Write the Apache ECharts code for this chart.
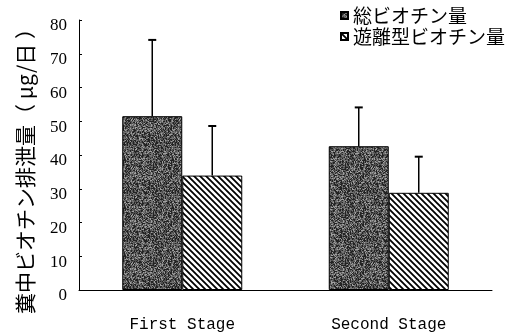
<!DOCTYPE html>
<html>
<head>
<meta charset="utf-8">
<script src="https://cdn.jsdelivr.net/npm/echarts@6/dist/echarts.min.js"></script>
<style>
  html, body { margin: 0; padding: 0; background: #fff; }
  #chart { width: 519px; height: 333px; }
</style>
</head>
<body>
<div id="chart"></div>
<script>
// Faecal biotin excretion by stage (mean + SD, µg/day)
const categories = ['First Stage', 'Second Stage'];
const seriesNames = ['総ビオチン量', '遊離型ビオチン量'];
const totalMean = [51.5, 42.6];
const totalSd = [22.6, 11.5];
const freeMean = [33.9, 28.8];
const freeSd = [14.7, 10.7];
const yTicks = [0, 10, 20, 30, 40, 50, 60, 70, 80];
const yTitle = '糞中ビオチン排泄量（ μg/日 ）';

// Speckled dark-grey fill, built from a deterministic hash so it is stable.
function makeSpeckle() {
  const c = document.createElement('canvas');
  c.width = 48; c.height = 48;
  const ctx = c.getContext('2d');
  const img = ctx.createImageData(48, 48);
  for (let i = 0; i < 48 * 48; i++) {
    let h = (i * 2654435761) >>> 0;
    h ^= h >>> 15; h = Math.imul(h, 2246822519) >>> 0; h ^= h >>> 13;
    const r = (h & 255) / 255;
    const v = r < 0.3 ? 35 : r < 0.6 ? 80 : r < 0.88 ? 115 : 160;
    img.data[i * 4] = v; img.data[i * 4 + 1] = v; img.data[i * 4 + 2] = v; img.data[i * 4 + 3] = 255;
  }
  ctx.putImageData(img, 0, 0);
  return c;
}

// White fill with black diagonal hatching running top-left to bottom-right.
function makeHatch() {
  const s = 6;
  const c = document.createElement('canvas');
  c.width = s; c.height = s;
  const ctx = c.getContext('2d');
  ctx.fillStyle = '#fff';
  ctx.fillRect(0, 0, s, s);
  ctx.strokeStyle = '#000';
  ctx.lineWidth = 1.8;
  ctx.beginPath();
  ctx.moveTo(-1, -1); ctx.lineTo(s + 1, s + 1);
  ctx.moveTo(-1, s - 1); ctx.lineTo(1, s + 1);
  ctx.moveTo(s - 1, -1); ctx.lineTo(s + 1, 1);
  ctx.stroke();
  return c;
}

const speckle = { image: makeSpeckle(), repeat: 'repeat' };
const hatch = { image: makeHatch(), repeat: 'repeat' };

const BAR_W = 60;

function errorSeries(means, sds, offset) {
  return {
    type: 'custom',
    silent: true,
    z: 1,
    data: means.map((m, i) => [i, m, m + sds[i]]),
    renderItem: function (params, api) {
      const base = api.coord([api.value(0), api.value(1)]);
      const top = api.coord([api.value(0), api.value(2)]);
      const x = base[0] + offset;
      const style = { stroke: '#000', lineWidth: 1.5 };
      return {
        type: 'group',
        children: [
          { type: 'line', shape: { x1: x, y1: base[1], x2: x, y2: top[1] }, style: style },
          { type: 'line', shape: { x1: x - 4, y1: top[1], x2: x + 4, y2: top[1] }, style: { stroke: '#000', lineWidth: 2 } }
        ]
      };
    }
  };
}

const chart = echarts.init(document.getElementById('chart'), null, { renderer: 'canvas' });
chart.setOption({
  animation: false,
  backgroundColor: '#fff',
  grid: { left: 79, right: 27, top: 20, bottom: 38 },
  legend: {
    orient: 'vertical',
    left: 340,
    top: 6,
    padding: 0,
    itemWidth: 7,
    itemHeight: 7,
    itemGap: 2,
    icon: 'rect',
    textStyle: { fontFamily: 'Noto Sans CJK JP', fontSize: 19, color: '#000', lineHeight: 18 },
    data: seriesNames
  },
  xAxis: {
    type: 'category',
    data: categories,
    axisLine: { lineStyle: { color: '#000', width: 1 } },
    axisTick: { inside: true, length: 3, lineStyle: { color: '#000' } },
    axisLabel: { fontFamily: 'Liberation Mono', fontSize: 16, color: '#000', margin: 27 }
  },
  yAxis: {
    type: 'value',
    min: 0, max: 80, interval: 10,
    splitLine: { show: false },
    axisLine: { show: true, lineStyle: { color: '#000', width: 1 } },
    axisTick: { show: true, inside: true, length: 3, lineStyle: { color: '#000' } },
    axisLabel: {
      fontFamily: 'Liberation Serif', fontSize: 17, color: '#000', margin: 12,
      verticalAlign: 'top', lineHeight: 12,
      formatter: v => (yTicks.indexOf(v) >= 0 ? String(v) : '')
    }
  },
  graphic: [{
    type: 'text',
    x: 25, y: 166,
    rotation: Math.PI / 2,
    style: {
      text: yTitle,
      fontFamily: 'Noto Sans CJK JP', fontSize: 21, fill: '#000',
      align: 'center', verticalAlign: 'middle'
    }
  }],
  series: [
    {
      name: seriesNames[0], type: 'bar', data: totalMean,
      barWidth: BAR_W, barGap: '0%', z: 2,
      itemStyle: { color: speckle, borderColor: '#000', borderWidth: 1 }
    },
    {
      name: seriesNames[1], type: 'bar', data: freeMean,
      barWidth: BAR_W, barGap: '0%', z: 2,
      itemStyle: { color: hatch, borderColor: '#000', borderWidth: 1 }
    },
    errorSeries(totalMean, totalSd, -BAR_W / 2),
    errorSeries(freeMean, freeSd, BAR_W / 2)
  ]
});
</script>
</body>
</html>
